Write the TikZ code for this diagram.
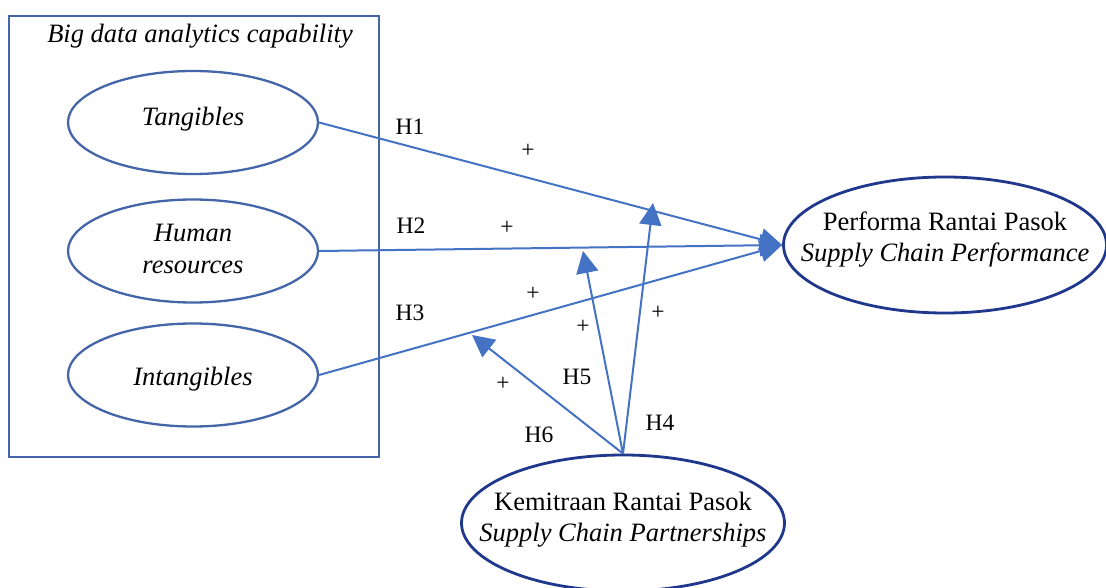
\documentclass[tikz,border=0pt]{standalone}
\usepackage{fontspec}
\setmainfont{Liberation Serif}
\usetikzlibrary{shapes.geometric,arrows.meta}
\definecolor{lineblue}{RGB}{68,114,196}
\definecolor{boxblue}{RGB}{68,102,168}
\definecolor{navyblue}{RGB}{32,56,140}
\begin{document}
\begin{tikzpicture}[x=1pt,y=-1pt,
  lefte/.style={draw=boxblue, line width=2.3pt, ellipse, minimum width=250pt, minimum height=103pt, inner sep=0pt},
  righte/.style={draw=navyblue, line width=2.8pt, ellipse, minimum width=323pt, minimum height=136pt, inner sep=0pt},
  ltext/.style={align=center, inner sep=0pt, font=\fontsize{26.5}{32}\selectfont\itshape},
  rtext/.style={align=center, inner sep=0pt, font=\fontsize{26.5}{31}\selectfont},
  conn/.style={draw=lineblue, line width=2pt},
  arr/.style={conn, -{Triangle[length=22pt,width=22pt]}},
  lbl/.style={font=\fontsize{23.5}{26}\selectfont, inner sep=0pt},
  plus/.style={font=\fontsize{23.5}{26}\selectfont, inner sep=0pt}
]
\useasboundingbox (0,0) rectangle (1106,588);
\fill[white] (0,0) rectangle (1106,588);
% container
\node[draw=boxblue, line width=2.5pt, minimum width=370pt, minimum height=441pt, inner sep=0pt] (box) at (194,236.5) {};
\node[font=\fontsize{26.5}{30}\selectfont\itshape, inner sep=0pt] (title) at (200,36) {Big data analytics capability};
% ellipses
\node[lefte] (tang) at (193,122.5) {};
\node[ltext] (tangt) at ([yshift=3pt]tang.center) {Tangibles};
\node[lefte] (hr) at (193,251) {};
\node[ltext] (hrt) at ([yshift=2pt]hr.center) {Human\\resources};
\node[lefte] (intang) at (193,375) {};
\node[ltext] (intangt) at ([yshift=-4pt]intang.center) {Intangibles};
\node[righte] (perf) at (945,245) {};
\node[rtext] (perft) at ([yshift=5pt]perf.center) {Performa Rantai Pasok\\\textit{Supply Chain Performance}};
\node[righte] (kem) at (623,523) {};
\node[rtext] (kemt) at ([yshift=3pt]kem.center) {Kemitraan Rantai Pasok\\\textit{Supply Chain Partnerships}};
% moderating targets
\coordinate (t4) at (653,203);
\coordinate (t5) at (583,251);
\coordinate (t6) at (472,335);
% connectors
\draw[arr] (tang.east) -- (perf.west);
\draw[arr] (hr.east) -- (perf.west);
\draw[arr] (intang.east) -- (perf.west);
\draw[arr] (kem.north) -- (t4);
\draw[arr] (kem.north) -- (t5);
\draw[arr] (kem.north) -- (t6);
% labels
\node[lbl] (h1) at (410,127) {H1};
\node[lbl] (h2) at (411,226) {H2};
\node[lbl] (h3) at (410,313) {H3};
\node[lbl] (h4) at (660,423) {H4};
\node[lbl] (h5) at (577,377) {H5};
\node[lbl] (h6) at (539,435) {H6};
\node[plus] (p1) at (528,151) {+};
\node[plus] (p2) at (507,228) {+};
\node[plus] (p3) at (533,294) {+};
\node[plus] (p4) at (658,313) {+};
\node[plus] (p5) at (583,327) {+};
\node[plus] (p6) at (503,384) {+};
\end{tikzpicture}
\end{document}
